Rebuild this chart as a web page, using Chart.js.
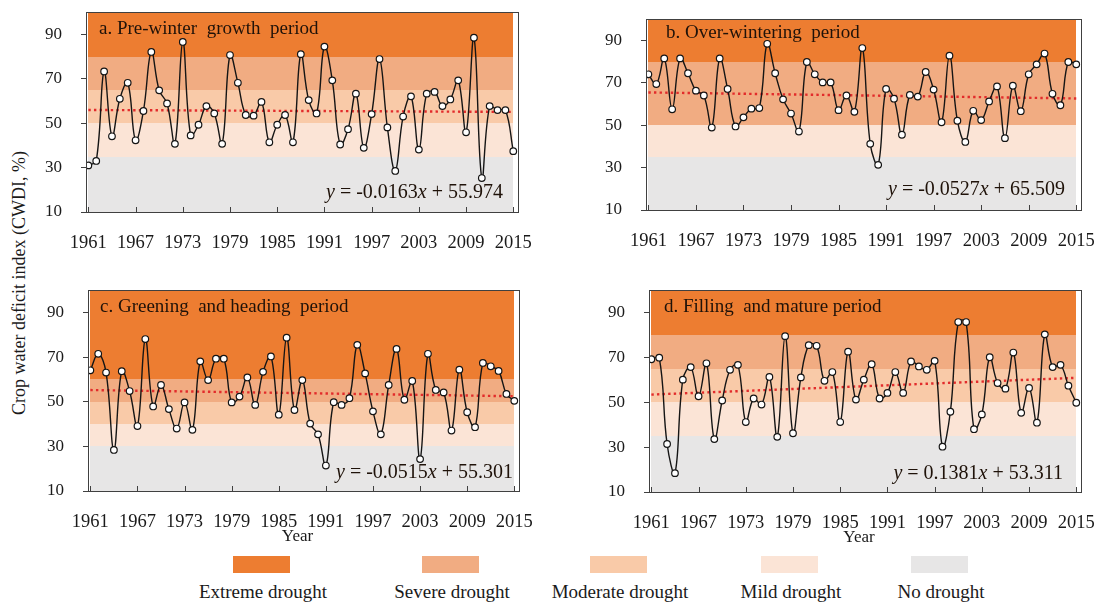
<!DOCTYPE html>
<html>
<head>
<meta charset="utf-8">
<script src="https://cdn.jsdelivr.net/npm/chart.js@4.4.1/dist/chart.umd.min.js"></script>
<style>
  body { margin: 0; width: 1100px; height: 606px; background: #fff; position: relative; overflow: hidden;
         font-family: "Liberation Serif", "Times New Roman", serif; color: #1a1a1a; }
  canvas { position: absolute; }
  .ytitle { position: absolute; left: 19px; top: 283px; transform: translate(-50%, -50%) rotate(-90deg);
            white-space: nowrap; font-size: 18px; }
  .lg-box { position: absolute; top: 556px; width: 57px; height: 17px; }
  .lg-text { position: absolute; top: 581px; font-size: 19px; white-space: nowrap; transform: translateX(-50%); }
</style>
</head>
<body>
<div class="ytitle">Crop water deficit index (CWDI, %)</div>
<script>
// ---- data ----
const years = Array.from({ length: 55 }, (_, i) => 1961 + i);
const xTickYears = [1961, 1967, 1973, 1979, 1985, 1991, 1997, 2003, 2009, 2015];
const yTicks = [10, 30, 50, 70, 90];

const cwdiPreWinter = [
  31.0, 33.0, 73.3, 44.1, 61.0, 68.2, 42.3, 55.5, 82.1, 64.8,
  58.9, 40.7, 86.6, 44.5, 49.3, 57.7, 54.4, 40.7, 80.7, 68.2,
  53.7, 53.4, 59.6, 41.4, 49.3, 53.7, 41.4, 81.1, 60.4, 54.4,
  84.5, 69.3, 40.4, 47.3, 63.3, 38.9, 54.1, 78.9, 48.1, 28.5,
  53.0, 62.1, 38.1, 63.3, 64.1, 57.7, 60.7, 69.3, 45.9, 88.5,
  25.3, 57.7, 55.9, 55.9, 37.4
];
const cwdiOverWintering = [
  74.0, 69.4, 81.5, 57.5, 81.5, 74.5, 66.3, 64.0, 48.9, 81.5,
  67.1, 49.4, 53.7, 57.8, 58.1, 88.4, 74.5, 62.2, 55.5, 47.0,
  79.8, 74.0, 70.2, 70.2, 57.1, 64.0, 56.3, 86.4, 41.2, 31.3,
  67.1, 62.5, 45.5, 64.3, 63.5, 75.1, 66.8, 51.4, 82.8, 52.1,
  42.1, 56.8, 52.4, 61.2, 68.3, 43.9, 68.6, 56.6, 74.0, 78.7,
  83.8, 64.8, 59.4, 79.8, 78.7
];
const cwdiGreening = [
  64.1, 71.5, 63.1, 28.4, 63.7, 54.8, 39.1, 78.1, 47.9, 57.5,
  46.7, 38.0, 49.7, 37.4, 68.1, 59.7, 69.3, 69.3, 49.7, 52.3,
  60.9, 48.6, 63.4, 70.3, 44.2, 78.7, 46.3, 59.7, 40.2, 35.4,
  21.4, 49.8, 48.6, 51.6, 75.5, 62.7, 45.7, 35.4, 57.5, 73.7,
  50.9, 59.3, 24.3, 71.5, 55.3, 54.2, 37.1, 64.4, 45.3, 38.6,
  67.4, 65.9, 63.8, 53.5, 50.4
];
const cwdiFilling = [
  69.2, 69.9, 31.4, 18.4, 60.1, 65.7, 52.7, 67.4, 33.6, 50.8,
  64.5, 66.7, 41.2, 51.7, 49.0, 61.3, 34.6, 79.5, 36.2, 61.1,
  75.5, 75.2, 59.6, 63.5, 41.2, 72.6, 51.2, 60.1, 67.0, 51.7,
  54.2, 63.5, 54.2, 68.2, 66.0, 64.5, 68.5, 30.2, 45.8, 85.8,
  85.8, 38.0, 44.6, 70.1, 58.6, 56.1, 72.2, 45.3, 56.4, 40.9,
  80.3, 65.7, 66.7, 57.4, 49.8
];

// linear trend y = slope * n + intercept (n = 1..55), as printed in each panel
const trendSlopes = [-0.0163, -0.0527, -0.0515, 0.1381];
const trendIntercepts = [55.974, 65.509, 55.301, 53.311];

// drought class thresholds per panel
const bandEdgesA = [10, 35, 50, 65, 80, 100];
const bandLevelsA = ["none", "mild", "moderate", "severe", "extreme"];
const bandEdgesB = [10, 35, 50, 80, 100];
const bandLevelsB = ["none", "mild", "severe", "extreme"];
const bandEdgesC = [10, 30, 40, 50, 60, 100];
const bandLevelsC = ["none", "mild", "moderate", "severe", "extreme"];
const bandEdgesD = [10, 35, 50, 65, 80, 100];
const bandLevelsD = ["none", "mild", "moderate", "severe", "extreme"];

const legendLevels = ["extreme", "severe", "moderate", "mild", "none"];
const legendLabels = ["Extreme drought", "Severe drought", "Moderate drought", "Mild drought", "No drought"];

// ---- styling ----
const levelColors = {
  extreme: "#ED7D31",
  severe: "#F1AC82",
  moderate: "#F9CAA8",
  mild: "#FBE4D6",
  none: "#E7E6E6"
};
const axisColor = "#404040";
const SERIF = "'Liberation Serif', 'Times New Roman', serif";

const panels = [
  { values: cwdiPreWinter, edges: bandEdgesA, levels: bandLevelsA, title: "a. Pre-winter  growth  period",
    plot: { l: 86, t: 9, r: 518, b: 212 }, titleOff: [13, 17], eqOff: [15, 19], year: false },
  { values: cwdiOverWintering, edges: bandEdgesB, levels: bandLevelsB, title: "b. Over-wintering  period",
    plot: { l: 646, t: 16, r: 1081, b: 210 }, titleOff: [20, 14], eqOff: [16, 20], year: false },
  { values: cwdiGreening, edges: bandEdgesC, levels: bandLevelsC, title: "c. Greening  and heading  period",
    plot: { l: 88, t: 287, r: 519, b: 491 }, titleOff: [12, 17], eqOff: [6, 18], year: true },
  { values: cwdiFilling, edges: bandEdgesD, levels: bandLevelsD, title: "d. Filling  and mature period",
    plot: { l: 649, t: 287, r: 1081, b: 492 }, titleOff: [15, 17], eqOff: [18, 18], year: true }
];

// backgrounds, box, inner ticks and labels
const decorPlugin = {
  id: "cwdiDecor",
  beforeDatasetsDraw(chart) {
    const p = chart.canvas._panel;
    const { ctx, scales: { x, y } } = chart;
    const x0 = Math.round(x.getPixelForValue(years[0]));
    const x1 = Math.round(x.getPixelForValue(years[years.length - 1]));
    ctx.save();
    for (let i = 0; i < p.levels.length; i++) {
      const yTop = Math.round(y.getPixelForValue(p.edges[i + 1]));
      const yBot = Math.round(y.getPixelForValue(p.edges[i]));
      ctx.fillStyle = levelColors[p.levels[i]];
      ctx.fillRect(x0, yTop, x1 - x0, yBot - yTop);
    }
    ctx.restore();
  },
  afterDraw(chart) {
    const p = chart.canvas._panel;
    const { ctx, chartArea: a, scales: { x } } = chart;
    ctx.save();
    // plot box
    ctx.strokeStyle = axisColor;
    ctx.lineWidth = 1;
    ctx.strokeRect(Math.round(a.left) + 0.5, Math.round(a.top) + 0.5,
      Math.round(a.right - a.left), Math.round(a.bottom - a.top));
    // inward x ticks
    ctx.beginPath();
    xTickYears.forEach((yr) => {
      const px = Math.round(x.getPixelForValue(yr)) + 0.5;
      ctx.moveTo(px, a.bottom);
      ctx.lineTo(px, a.bottom - 5);
    });
    ctx.stroke();

    ctx.fillStyle = "#1f1209";
    ctx.textBaseline = "middle";
    ctx.textAlign = "left";
    // panel title
    ctx.font = "19px " + SERIF;
    ctx.fillText(p.title, a.left + p.titleOff[0], a.top + p.titleOff[1]);
    // equation, italic y and x
    const parts = [
      { t: "y", f: "italic 20px " + SERIF },
      { t: " = " + p.slope, f: "20px " + SERIF },
      { t: "x", f: "italic 20px " + SERIF },
      { t: " + " + p.intercept, f: "20px " + SERIF }
    ];
    let total = 0;
    parts.forEach((pt) => { ctx.font = pt.f; pt.w = ctx.measureText(pt.t).width; total += pt.w; });
    let xx = a.right - p.eqOff[0] - total;
    const ey = a.bottom - p.eqOff[1];
    parts.forEach((pt) => { ctx.font = pt.f; ctx.fillText(pt.t, xx, ey); xx += pt.w; });
    // axis title
    if (p.year) {
      ctx.fillStyle = "#1a1a1a";
      ctx.font = "17px " + SERIF;
      ctx.textAlign = "center";
      ctx.fillText("Year", (a.left + a.right) / 2 - 6, a.bottom + 46);
    }
    ctx.restore();
  }
};

Chart.defaults.font.family = SERIF;
Chart.defaults.color = "#1a1a1a";

const YW = 70, XH = 60, PT = 2, PR = 26;

panels.forEach((p, k) => {
  p.slope = trendSlopes[k];
  p.intercept = trendIntercepts[k];
  const canvas = document.createElement("canvas");
  canvas.width = YW + (p.plot.r - p.plot.l) + PR;
  canvas.height = PT + (p.plot.b - p.plot.t) + XH;
  canvas.style.left = (p.plot.l - YW) + "px";
  canvas.style.top = (p.plot.t - PT) + "px";
  canvas._panel = p;
  document.body.appendChild(canvas);

  const n = years.length;
  new Chart(canvas, {
    type: "line",
    data: {
      datasets: [
        {
          label: "CWDI",
          data: years.map((yr, i) => ({ x: yr, y: p.values[i] })),
          borderColor: "#151515",
          borderWidth: 1.4,
          tension: 0.4,
          pointRadius: 3.3,
          pointBackgroundColor: "#ffffff",
          pointBorderColor: "#151515",
          pointBorderWidth: 1.2
        },
        {
          label: "Trend",
          data: [
            { x: years[0], y: p.slope * 1 + p.intercept },
            { x: years[n - 1], y: p.slope * n + p.intercept }
          ],
          borderColor: "#E22B2B",
          borderWidth: 2.4,
          borderDash: [2.4, 3.2],
          pointRadius: 0,
          tension: 0
        }
      ]
    },
    options: {
      responsive: false,
      animation: false,
      layout: { padding: { top: PT, right: PR, left: 0, bottom: 0 } },
      plugins: { legend: { display: false }, tooltip: { enabled: false } },
      scales: {
        x: {
          type: "linear",
          min: 1960.7,
          max: 2015.6,
          afterBuildTicks: (scale) => { scale.ticks = xTickYears.map((v) => ({ value: v })); },
          afterFit: (scale) => {
            scale.height = XH;
            scale.paddingLeft = 0; scale.paddingRight = 0;
          },
          grid: { display: false },
          border: { display: true, color: axisColor, width: 1 },
          ticks: {
            autoSkip: false,
            maxRotation: 0,
            padding: 12,
            font: { size: 18.5 },
            color: "#1a1a1a",
            callback: (v) => String(v)
          }
        },
        y: {
          min: 10,
          max: 100,
          afterBuildTicks: (scale) => { scale.ticks = yTicks.map((v) => ({ value: v })); },
          afterFit: (scale) => {
            scale.width = YW;
            scale.paddingTop = 0; scale.paddingBottom = 0;
          },
          grid: { drawOnChartArea: false, drawTicks: true, tickLength: 5, color: axisColor },
          border: { display: true, color: axisColor, width: 1 },
          ticks: { padding: 19, font: { size: 17 }, color: "#1a1a1a" }
        }
      }
    },
    plugins: [decorPlugin]
  });
});

// legend
const lgBoxLeft = [233, 422, 590, 761, 911];
legendLevels.forEach((lv, i) => {
  const box = document.createElement("div");
  box.className = "lg-box";
  box.style.left = lgBoxLeft[i] + "px";
  box.style.background = levelColors[lv];
  document.body.appendChild(box);
  const txt = document.createElement("div");
  txt.className = "lg-text";
  txt.style.left = (lgBoxLeft[i] + 30) + "px";
  txt.textContent = legendLabels[i];
  document.body.appendChild(txt);
});
</script>
</body>
</html>
